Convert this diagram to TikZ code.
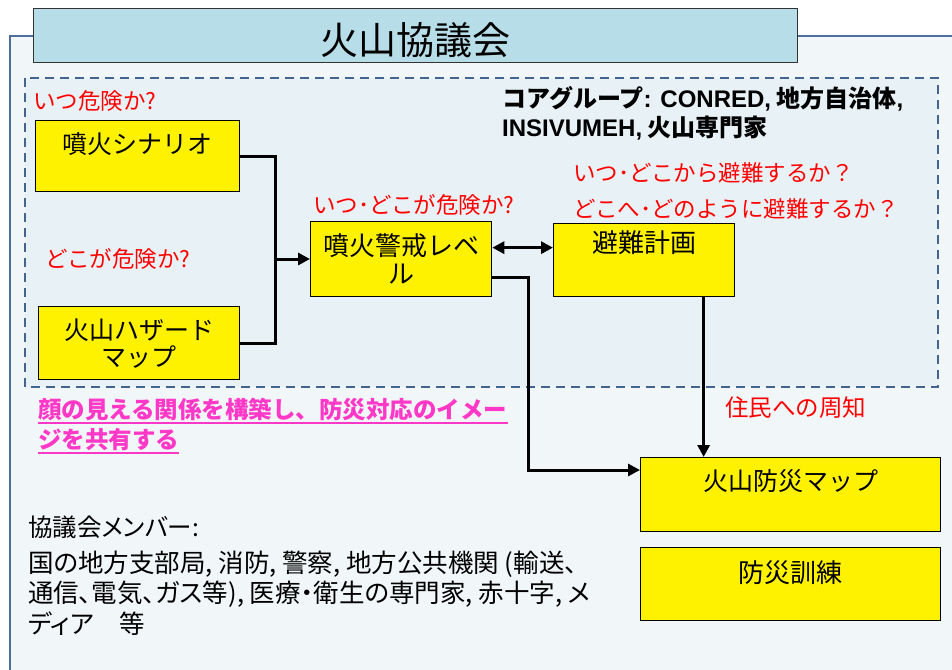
\documentclass[tikz,border=0pt]{standalone}
\usepackage{fontspec}
\setmainfont{Noto Sans CJK JP}
\newfontfamily\lat{Liberation Sans}
\newfontfamily\jpp{Noto Sans CJK JP}[RawFeature=+palt]
\usetikzlibrary{arrows.meta,calc}
\definecolor{framec}{HTML}{4F6F9A}
\definecolor{dashc}{HTML}{42648E}
\definecolor{bgc}{HTML}{F1F6F8}
\definecolor{innerbg}{HTML}{E8F2F6}
\definecolor{titlefill}{HTML}{B7DDE8}
\definecolor{pinkc}{HTML}{FF38C8}
\tikzset{
  ybox/.style={draw=black, line width=1.3pt, fill=yellow, inner xsep=0pt, inner ysep=0pt,
    align=center, anchor=north west, font=\fontsize{25}{27}\selectfont},
  redt/.style={text=red, font=\fontsize{22.5}{26}\selectfont, inner sep=0pt, anchor=west},
  pinkt/.style={text=pinkc, font=\bfseries\fontsize{23.5}{27}\selectfont, inner sep=0pt, anchor=west},
  memt/.style={text=black, font=\jpp\fontsize{24.5}{30.5}\selectfont, inner sep=0pt, anchor=west, align=left},
  conn/.style={line width=3pt, black},
  tip/.style={-{Triangle[length=12pt,width=12pt]}},
}
\begin{document}
\begin{tikzpicture}[x=1pt,y=-1pt]
\useasboundingbox (0,0) rectangle (952,669);
\begin{scope}
  \clip (0,0) rectangle (952,669);
  \fill[white] (0,0) rectangle (952,669);
  \draw[framec, line width=2.5pt, fill=bgc] (10,36) rectangle (975,700);
\end{scope}
% title
\node[draw=black!80, line width=1.3pt, fill=titlefill, anchor=north west, inner xsep=0pt, inner ysep=0pt,
  minimum width=764pt, text height=45.5pt, text depth=8.5pt, font=\fontsize{38}{42}\selectfont] (title) at (33,8) {火山協議会};
% dashed core area
\draw[dashc, line width=2.5pt, dash pattern=on 9pt off 6pt, fill=innerbg] (25,78) rectangle (938,387);

% boxes
\node[ybox, minimum width=204pt, text height=32.5pt, text depth=38.5pt] (scen) at (35,120) {噴火シナリオ};
\node[ybox, minimum width=201pt, minimum height=73pt] (haz) at (38,306) {火山ハザード\\マップ};
\node[ybox, minimum width=181pt, minimum height=75pt, font=\fontsize{26}{28}\selectfont] (level) at (310,221) {噴火警戒レベ\\ル};
\node[ybox, minimum width=181pt, text height=29pt, text depth=44pt, font=\fontsize{26}{28}\selectfont] (evac) at (553,223) {避難計画};
\node[ybox, minimum width=300pt, text height=32.5pt, text depth=41.5pt] (map) at (640,457) {火山防災マップ};
\node[ybox, minimum width=300pt, text height=35pt, text depth=38pt, font=\fontsize{26}{28}\selectfont] (train) at (640,547) {防災訓練};

% red labels
\node[redt] (q1) at (33,101) {いつ危険か?};
\node[redt] (q2) at (45,259) {どこが危険か?};
\node[redt] (q3) at (313,205) {いつ･どこが危険か?};
\node[redt] (q4) at (573,173) {いつ･どこから避難するか？};
\node[redt] (q5) at (573,209) {どこへ･どのように避難するか？};
\node[redt, font=\fontsize{23.5}{26}\selectfont] (q6) at (725,408) {住民への周知};

% core group
\node[anchor=west, inner sep=0pt, align=left, font=\bfseries\fontsize{24}{29}\selectfont] (core) at (502,113)
  {コアグループ{\lat: CONRED,} 地方自治体{\lat ,}\\{\lat INSIVUMEH,} 火山専門家};

% pink text
\node[pinkt] (p1) at (38,410) {顔の見える関係を構築し、防災対応のイメー};
\node[pinkt] (p2) at (38,440) {ジを共有する};
\draw[pinkc, line width=2pt] ([yshift=-4pt]p1.base west) -- ([yshift=-4pt]p1.base east);
\draw[pinkc, line width=2pt] ([yshift=-4pt]p2.base west) -- ([yshift=-4pt]p2.base east);

% members
\node[memt] (mh) at (28,527) {協議会メンバー:};
\node[memt, font=\jpp\fontsize{25.5}{30.5}\selectfont] (mb) at (28,593) {国の地方支部局, 消防, 警察, 地方公共機関 (輸送、\\通信、電気、ガス等), 医療・衛生の専門家, 赤十字, メ\\ディア\quad 等};

% connectors
\coordinate (j) at (275,259);
\draw[conn] (scen.east) -| (j) |- (haz.east);
\draw[conn, tip] (j) -- (level.west |- j);
\coordinate (da) at ($(level.east)+(0,-11.5)$);
\draw[conn, {Triangle[length=12pt,width=12pt]}-{Triangle[length=12pt,width=12pt]}] (da) -- (evac.west |- da);
\coordinate (lk) at ($(level.east)+(0,18.5)$);
\coordinate (k) at (528,470);
\draw[conn, tip] (lk) -| (k) -- (map.west |- k);
\coordinate (e1) at ($(evac.south)+(59.5,0)$);
\draw[conn, tip] (e1) -- (e1 |- map.north);
\end{tikzpicture}
\end{document}
